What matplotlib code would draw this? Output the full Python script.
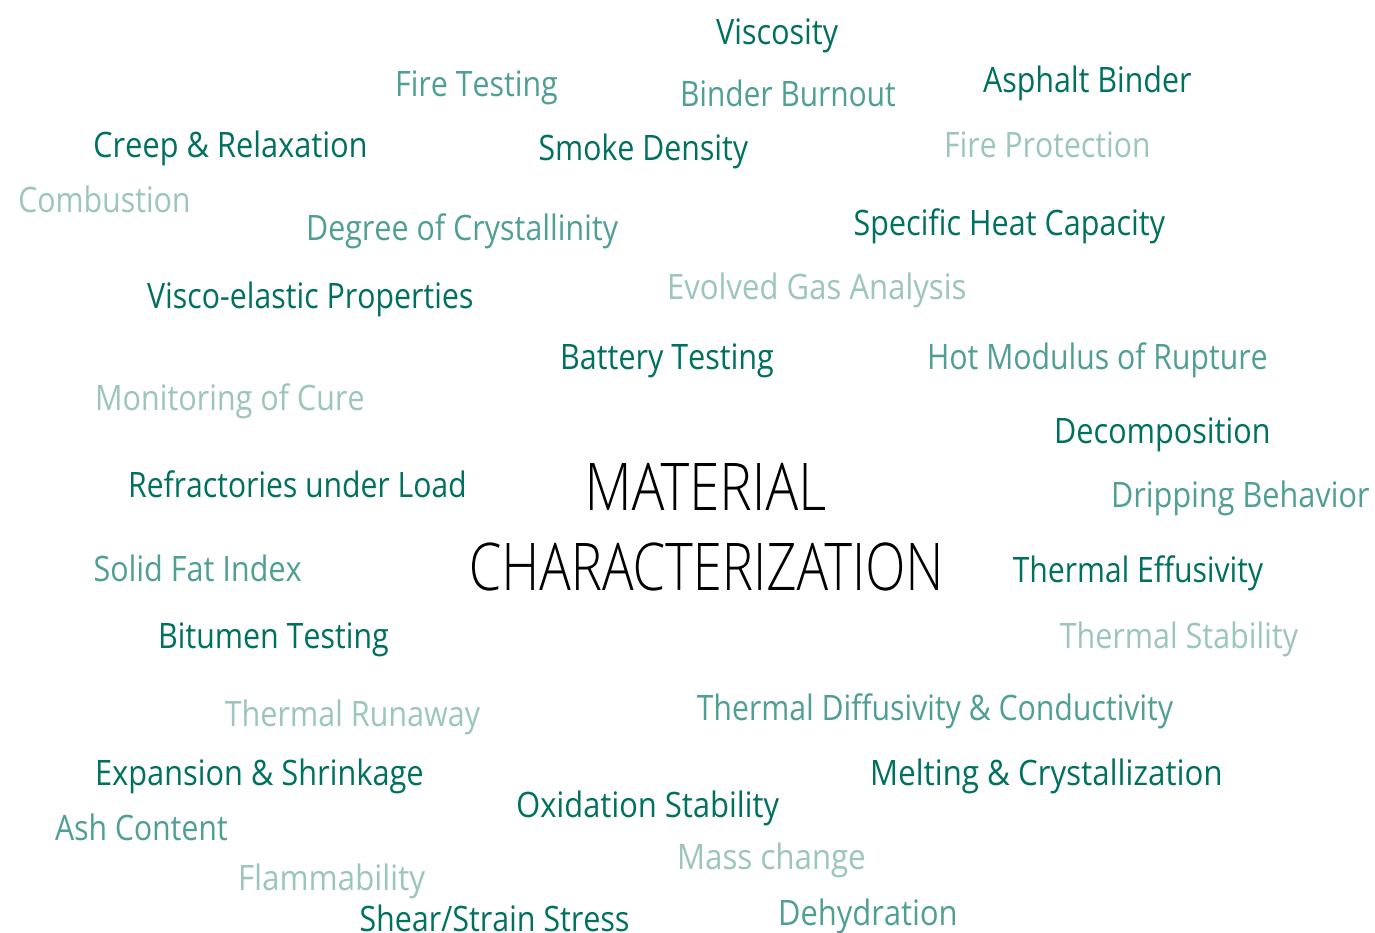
import matplotlib
matplotlib.use("Agg")
import matplotlib.pyplot as plt
from matplotlib.textpath import TextPath
from matplotlib.font_manager import FontProperties
from matplotlib.patches import PathPatch
from matplotlib.transforms import Affine2D

# words of the cloud and their shade (0 = dark, 1 = medium, 2 = light)
words = [
    "Viscosity", "Fire Testing", "Binder Burnout", "Asphalt Binder",
    "Creep & Relaxation", "Smoke Density", "Fire Protection", "Combustion",
    "Degree of Crystallinity", "Specific Heat Capacity",
    "Visco-elastic Properties", "Evolved Gas Analysis", "Battery Testing",
    "Hot Modulus of Rupture", "Monitoring of Cure", "Decomposition",
    "Refractories under Load", "Dripping Behavior", "Solid Fat Index",
    "Thermal Effusivity", "Bitumen Testing", "Thermal Stability",
    "Thermal Runaway", "Thermal Diffusivity & Conductivity",
    "Expansion & Shrinkage", "Melting & Crystallization",
    "Oxidation Stability", "Ash Content", "Mass change", "Flammability",
    "Dehydration", "Shear/Strain Stress",
]
shade = [0, 1, 1, 0, 0, 0, 2, 2, 1, 0, 0, 2, 0, 1, 2, 0,
         0, 1, 1, 0, 0, 2, 2, 1, 0, 0, 0, 1, 2, 2, 1, 0]
title_lines = ["MATERIAL", "CHARACTERIZATION"]

# layout in pixels: left / right ink edge and vertical centre of each word
x_left = [716, 398, 683, 983, 95, 540, 947, 20, 309, 855, 147, 670, 563,
          930, 98, 1057, 131, 1114, 95, 1013, 161, 1060, 225, 697, 98, 873,
          518, 55, 680, 241, 781, 361]
x_right = [838, 557, 895, 1191, 365, 748, 1148, 188, 618, 1165, 472, 965,
           773, 1266, 363, 1268, 464, 1369, 301, 1263, 388, 1298, 480, 1173,
           422, 1220, 779, 227, 864, 425, 955, 628]
y_mid = [32, 84, 94, 80, 145, 148, 145, 200, 228, 223, 296, 287, 357, 357,
         398, 431, 485, 495, 569, 570, 636, 636, 714, 708, 773, 773, 805,
         828, 857, 878, 913, 919]
title_left = [590, 472]
title_right = [825, 938]
title_base = [510, 590]

palette = ["#00705f", "#4f9f95", "#9cc5be"]

W, H = 1375, 933
fig = plt.figure(figsize=(W / 100, H / 100), dpi=100)
ax = fig.add_axes([0, 0, 1, 1])
ax.set_xlim(0, W)
ax.set_ylim(H, 0)
ax.axis("off")

word_font = FontProperties(family="Open Sans", weight="normal")
light_font = FontProperties(family="Open Sans", weight="light")


def fitted_text(s, x0, x1, base, cap, font, color):
    # draw text as a path, squeezed to span x0..x1 with a given cap height
    ref = TextPath((0, 0), "H", size=100, prop=font).get_extents()
    tp = TextPath((0, 0), s, size=100, prop=font)
    ext = tp.get_extents()
    sx = (x1 - x0) / ext.width
    sy = cap / ref.height
    tr = Affine2D().translate(-ext.x0, 0).scale(sx, -sy).translate(x0, base)
    ax.add_patch(PathPatch(tr.transform_path(tp), facecolor=color,
                           edgecolor="none", lw=0))


for w, s, a, b, y in zip(words, shade, x_left, x_right, y_mid):
    fitted_text(w, a, b, y + 12, 25, word_font, palette[s])

for t, a, b, base in zip(title_lines, title_left, title_right, title_base):
    fitted_text(t, a, b, base, 47, light_font, "black")

fig.savefig("out.png", dpi=100, facecolor="white")
